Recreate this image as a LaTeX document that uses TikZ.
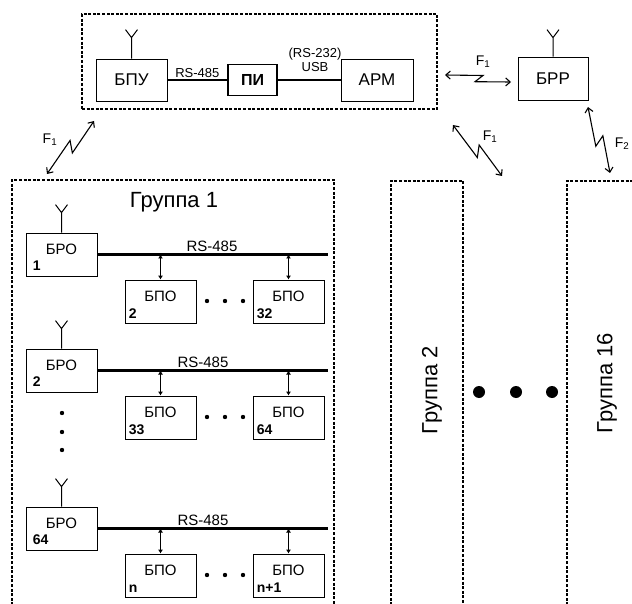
\documentclass[tikz,border=0pt]{standalone}
\usepackage{fontspec}
\setmainfont{Liberation Sans}
\usetikzlibrary{arrows.meta,calc,positioning}
\tikzset{%
  unit/.style   = {draw, line width=0.8pt, inner sep=0pt,%
                   minimum width=71pt, minimum height=43pt},%
  big/.style    = {font=\fontsize{17}{17}\selectfont},%
  small/.style  = {font=\fontsize{15}{15}\selectfont, inner sep=0pt},%
  num/.style    = {font=\fontsize{14}{14}\selectfont\bfseries,%
                   anchor=south west, inner sep=0pt},%
  iface/.style  = {font=\fontsize{13}{13}\selectfont, inner sep=1pt},%
  frame/.style  = {draw, line width=1.3pt, dash pattern=on 3pt off 1.6pt},%
  bus/.style    = {line width=2.2pt},%
  tap/.style    = {line width=1.3pt,%
                   {Latex[length=4pt,width=5pt]}-{Latex[length=4pt,width=5pt]}},%
  aerial/.style = {line width=1pt},%
  radio/.style  = {line width=1.1pt,%
                   {Straight Barb[length=4.5pt,width=8pt]}-{Straight Barb[length=4.5pt,width=8pt]}},%
  zap/.style    = {to path={-- ($(\tikztostart)!0.57!(\tikztotarget)!#1!90:(\tikztotarget)$)%
                   -- ($(\tikztostart)!0.46!(\tikztotarget)!#1!-90:(\tikztotarget)$)%
                   -- (\tikztotarget)}},%
  fq/.style     = {font=\fontsize{14}{14}\selectfont},%
  grp/.style    = {font=\fontsize{22}{22}\selectfont}%
}

\begin{document}
\begin{tikzpicture}[x=1pt,y=-1pt]
  \useasboundingbox (0,0) rectangle (632,604);
  % control point
  \node[frame, minimum width=355pt, minimum height=95pt] (ctrl) at (259.5,61.5) {};
  \node[unit, big, minimum height=42pt] (bpu) at (131.5,80) {БПУ};
  \node[unit, font=\fontsize{16}{16}\selectfont\bfseries, line width=1.5pt,
        minimum width=49pt, minimum height=31pt] (pi) at (252.5,80) {ПИ};
  \node[unit, big, minimum width=72pt, minimum height=42pt] (arm) at (377,80) {АРМ};
  \draw[bus] (bpu) -- (pi) node[iface, midway, above] (rs0) {RS-485};
  \draw[bus] (pi) -- (arm);
  \node[iface] (usb) at (315,67) {USB};
  \node[iface, above=0pt of usb] (rs232) {(RS-232)};
  \draw[aerial] (bpu.north) -- ++(0,-21) coordinate (abpu) -- ++(-6,-8) (abpu) -- ++(6,-8);
  % relay
  \node[unit, big, minimum width=70pt] (brr) at (553,78.5) {БРР};
  \draw[aerial] (brr.north) -- ++(0,-19) coordinate (abrr) -- ++(-6,-8) (abrr) -- ++(6,-8);
  % radio links
  \coordinate (h1) at (445,75);  \coordinate (h2) at (511,82);
  \coordinate (l1) at (47,174);  \coordinate (l2) at (94,121);
  \coordinate (d1) at (453,125); \coordinate (d2) at (502,176);
  \coordinate (r1) at (588,107); \coordinate (r2) at (610,173);
  \draw[radio] (h1) to[zap=3.5pt] (h2);
  \draw[radio] (l1) to[zap=5pt] (l2);
  \draw[radio] (d1) to[zap=-5pt] (d2);
  \draw[radio] (r1) to[zap=-5pt] (r2);
  \node[fq] (fh) at (483,62) {F\textsubscript{1}};
  \node[fq] (fl) at (50,140) {F\textsubscript{1}};
  \node[fq] (fd) at (490,137) {F\textsubscript{1}};
  \node[fq] (fr) at (622,144) {F\textsubscript{2}};
  % groups
  \draw[frame] (12,610) -- (12,180) -- (334,180) -- (334,610);
  \draw[frame] (391,610) -- (391,181) -- (463,181) -- (463,610);
  \draw[frame] (567,610) -- (567,181) -- (640,181);
  \node[grp] (g1) at (174,202) {Группа 1};
  \node[grp, rotate=90] (g2) at (432,390) {Группа 2};
  \node[grp, rotate=90] (g16) at (607,383) {Группа 16};
  \foreach \x in {479,516,552} \fill (\x,392) circle (6pt);
  % rows of group 1
  \foreach \y/\k/\r/\p/\q/\t in {233/1/1/2/32/212, 349/2/2/33/64/203, 507/3/64/n/n+1/203}{
    \node[unit] (bro\k) at (61.5,\y+21.5) {};
    \node[small] (brot\k) at ([yshift=5pt]bro\k.center) {БРО};
    \node[num] (bron\k) at ([xshift=7pt,yshift=6pt]bro\k.south west) {\r};
    \draw[aerial] (bro\k.north) -- ++(0,-20) coordinate (ant\k) -- ++(-6,-8) (ant\k) -- ++(6,-8);
    \coordinate (end\k) at (328,\y+21.5);
    \draw[bus] (bro\k) -- (end\k);
    \node[iface, font=\fontsize{15}{15}\selectfont, anchor=south] (rs\k) at (\t,\y+19.5) {RS-485};
    \node[unit] (bpoa\k) at (160.5,\y+68.5) {};
    \node[unit] (bpob\k) at (288.5,\y+68.5) {};
    \node[small] (bpoat\k) at ([yshift=5pt]bpoa\k.center) {БПО};
    \node[small] (bpobt\k) at ([yshift=5pt]bpob\k.center) {БПО};
    \node[num] (bpoan\k) at ([xshift=4pt,yshift=5pt]bpoa\k.south west) {\p};
    \node[num] (bpobn\k) at ([xshift=4pt,yshift=5pt]bpob\k.south west) {\q};
    \draw[tap] (bpoa\k.north |- end\k) -- (bpoa\k.north);
    \draw[tap] (bpob\k.north |- end\k) -- (bpob\k.north);
    \foreach \x in {207,225,243} \fill (\x,\y+68) circle (2.2pt);
  }
  \foreach \v in {413,432,450} \fill (62,\v) circle (2.2pt);
\end{tikzpicture}
\end{document}
